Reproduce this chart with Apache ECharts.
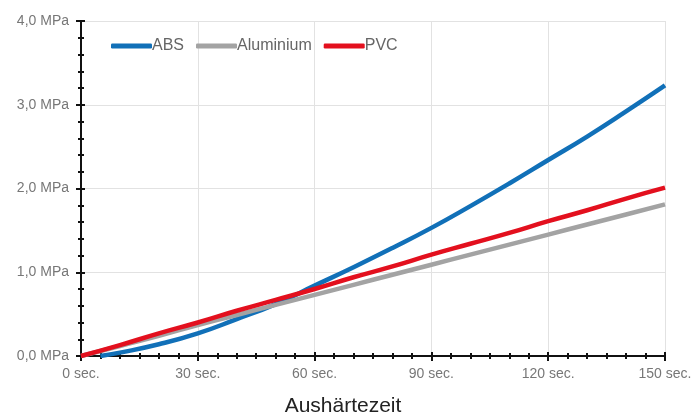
<!DOCTYPE html>
<html>
<head>
<meta charset="utf-8">
<script src="https://cdn.jsdelivr.net/npm/echarts@6/dist/echarts.min.js"></script>
<style>
html,body{margin:0;padding:0;background:#fff;}
#chart{width:692px;height:416px;}
</style>
</head>
<body>
<div id="chart"></div>
<script>
var seriesNames = ['ABS', 'Aluminium', 'PVC'];
var timesAbs = [5, 10, 20, 30, 40, 50, 60, 70, 80, 90, 100, 110, 120, 130, 140, 150];
var absValues = [0, 0.04, 0.14, 0.27, 0.44, 0.62, 0.84, 1.06, 1.29, 1.53, 1.79, 2.06, 2.34, 2.62, 2.92, 3.23];
var times = [0, 10, 20, 30, 40, 50, 60, 70, 80, 90, 100, 110, 120, 130, 140, 150];
var aluValues = [0, 0.12, 0.24, 0.37, 0.49, 0.61, 0.73, 0.85, 0.97, 1.09, 1.21, 1.33, 1.45, 1.57, 1.69, 1.81];
var pvcValues = [0, 0.13, 0.27, 0.40, 0.54, 0.67, 0.80, 0.94, 1.07, 1.21, 1.34, 1.47, 1.61, 1.74, 1.88, 2.01];
var xTitle = 'Aushärtezeit';

function pairs(xs, ys) { return xs.map(function (x, i) { return [x, ys[i]]; }); }

var colors = ['#1170b8', '#a3a3a3', '#e3101e'];
var chart = echarts.init(document.getElementById('chart'));
var font = 'Liberation Sans, Arial, sans-serif';
var tickStyle = { color: '#111', width: 2 };

function innerX() {
  return { type: 'value', min: 0, max: 150, interval: 30, position: 'bottom',
    axisLine: { show: false },
    axisTick: { show: true, inside: true, length: 4, lineStyle: tickStyle },
    minorTick: { show: true, splitNumber: 6, length: 3, lineStyle: tickStyle },
    axisLabel: { show: false }, splitLine: { show: false } };
}
function innerY() {
  return { type: 'value', min: 0, max: 4, interval: 1, position: 'left',
    axisLine: { show: false },
    axisTick: { show: true, inside: true, length: 4, lineStyle: tickStyle },
    minorTick: { show: true, splitNumber: 5, length: 3, lineStyle: tickStyle },
    axisLabel: { show: false }, splitLine: { show: false } };
}

chart.setOption({
  animation: false,
  color: colors,
  grid: { left: 81, right: 27, top: 21, bottom: 60, containLabel: false, outerBoundsMode: 'none' },
  legend: {
    data: seriesNames,
    left: 106, top: 33,
    itemWidth: 41, itemHeight: 5, itemGap: 12,
    icon: 'roundRect',
    textStyle: { color: '#666', fontSize: 16, fontFamily: font, padding: [0, 0, 0, -5] }
  },
  xAxis: [{
    type: 'value', min: 0, max: 150, interval: 30, position: 'bottom',
    name: xTitle, nameLocation: 'middle', nameGap: 40,
    nameTextStyle: { color: '#222', fontSize: 21, fontFamily: font, padding: [0, 60, 0, 0] },
    axisLine: { lineStyle: { color: '#111', width: 2 } },
    axisTick: { show: true, length: 5, lineStyle: tickStyle },
    minorTick: { show: true, splitNumber: 6, length: 3, lineStyle: tickStyle },
    axisLabel: { color: '#777', fontSize: 14, fontFamily: font, margin: 11,
      formatter: function (v) { return v + ' sec.'; } },
    splitLine: { show: true, lineStyle: { color: '#e2e2e2', width: 1 } }
  }, innerX()],
  yAxis: [{
    type: 'value', min: 0, max: 4, interval: 1, position: 'left',
    axisLine: { show: true, lineStyle: { color: '#111', width: 2 } },
    axisTick: { show: true, length: 5, lineStyle: tickStyle },
    minorTick: { show: true, splitNumber: 5, length: 3, lineStyle: tickStyle },
    axisLabel: { color: '#777', fontSize: 14, fontFamily: font, margin: 12,
      formatter: function (v) { return v.toFixed(1).replace('.', ',') + ' MPa'; } },
    splitLine: { show: true, lineStyle: { color: '#e2e2e2', width: 1 } }
  }, innerY()],
  series: [
    { name: seriesNames[0], type: 'line', smooth: true, showSymbol: false,
      lineStyle: { width: 4.5 }, data: pairs(timesAbs, absValues) },
    { name: seriesNames[1], type: 'line', smooth: true, showSymbol: false,
      lineStyle: { width: 4.5 }, data: pairs(times, aluValues) },
    { name: seriesNames[2], type: 'line', smooth: true, showSymbol: false,
      lineStyle: { width: 4.5 }, data: pairs(times, pvcValues) }
  ]
});
</script>
</body>
</html>
